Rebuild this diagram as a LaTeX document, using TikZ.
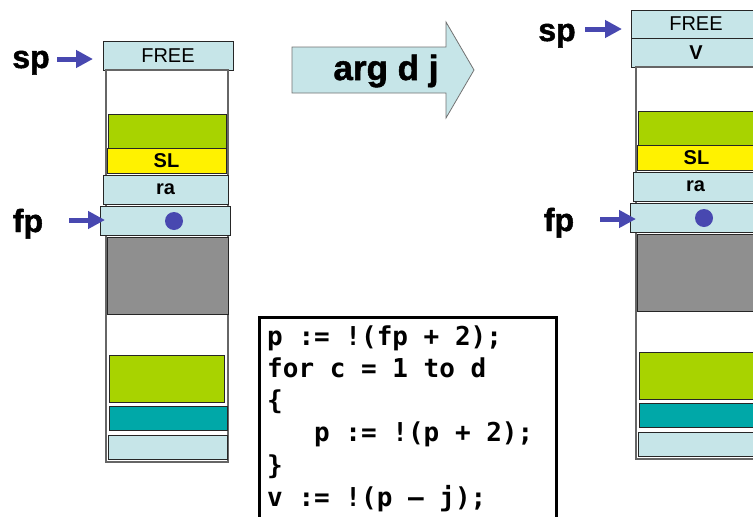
\documentclass[tikz,border=0pt]{standalone}
\usepackage{fontspec}
\setmainfont{Liberation Sans}
\newfontfamily\codefont{DejaVu Sans Mono}
\newfontfamily\heavyfont[FakeBold=1.5]{Liberation Sans Bold}
\usetikzlibrary{arrows.meta,calc}
\definecolor{cellblue}{RGB}{198,229,232}
\definecolor{cellgreen}{RGB}{168,211,0}
\definecolor{cellgray}{RGB}{143,143,143}
\definecolor{cellteal}{RGB}{0,168,168}
\definecolor{ptrblue}{RGB}{72,72,176}
\newcommand\drawstack[1]{%
  \node[column, minimum width=122, minimum height=392] (#1col) at (106,70) {};
  \node[cell, fill=cellgreen, minimum width=118, minimum height=34] (#1green) at (108,114) {};
  \node[cell, fill=yellow, minimum width=119, minimum height=25, font=\bfseries\fontsize{20}{20}\selectfont] (#1sl) at (107,148) {SL};
  \node[cell, fill=cellblue, minimum width=125, minimum height=29, font=\bfseries\fontsize{20}{20}\selectfont] (#1ra) at (103,175) {ra};
  \node[cell, fill=cellblue, minimum width=130, minimum height=29] (#1fp) at (100,206) {};
  \node[circle, fill=ptrblue, minimum size=18, inner sep=0] (#1dot) at (174,221) {};
  \node[cell, fill=cellgray, minimum width=121, minimum height=77] (#1gray) at (107,237) {};
  \node[cell, fill=cellgreen, minimum width=115, minimum height=47] (#1greentwo) at (109,355) {};
  \node[cell, fill=cellteal, minimum width=118, minimum height=24] (#1teal) at (109,406) {};
  \node[cell, fill=cellblue, minimum width=119, minimum height=24] (#1lblue) at (108,435) {};
}
\begin{document}
\begin{tikzpicture}[x=1pt,y=-1pt,
  cell/.style={draw=black!85, line width=1pt, inner sep=0, outer sep=0, anchor=north west, font=\fontsize{20}{20}\selectfont},
  column/.style={draw=black!60, line width=1.3pt, fill=white, inner sep=0, outer sep=0, anchor=north west},
  reg/.style={font=\heavyfont\fontsize{32}{32}\selectfont, inner sep=0, anchor=base},
  ptr/.style={draw=ptrblue, line width=5pt, -{Triangle[length=17pt,width=17pt]}},
  bigarrow/.style={fill=cellblue, draw=black!55, line width=0.8pt},
  codebox/.style={draw=black, line width=3pt, inner sep=0, anchor=north west},
  codeline/.style={inner sep=0, anchor=base west, font=\codefont\bfseries\fontsize{26}{26}\selectfont}]
\useasboundingbox (0,0) rectangle (753,517);
\clip (0,0) rectangle (753,517);
\fill[white] (0,0) rectangle (753,517);

% left stack
\node[cell, fill=cellblue, minimum width=130, minimum height=29] (Lfree) at (103,41) {FREE};
\drawstack{L}

% right stack
\begin{scope}[shift={(530,-3)}]
\node[cell, fill=cellblue, minimum width=130, minimum height=28] (Rfree) at (101,13) {FREE};
\node[cell, fill=cellblue, minimum width=130, minimum height=29, font=\bfseries\fontsize{20}{20}\selectfont] (Rv) at (101,41) {V};
\drawstack{R}
\end{scope}

% register labels and pointers
\node[reg] (Lsp) at (31,68) {sp};
\node[reg] (Lfplab) at (28,232) {fp};
\node[reg] (Rsp) at (557,41) {sp};
\node[reg] (Rfplab) at (559,231) {fp};

\coordinate (LspT) at (57,59);
\coordinate (LfpT) at (69,220);
\coordinate (RspT) at (585,29);
\coordinate (RfpT) at (600,219);
\draw[ptr, shorten >=10pt] (LspT) -- (LspT -| Lfree.west);
\draw[ptr, shorten >=-5pt] (LfpT) -- (LfpT -| Lfp.west);
\draw[ptr, shorten >=9pt] (RspT) -- (RspT -| Rfree.west);
\draw[ptr, shorten >=-6pt] (RfpT) -- (RfpT -| Rfp.west);

% big arrow
\path[bigarrow] (292,47) -- (446,47) -- (446,22) -- (474,70) -- (446,118) -- (446,93) -- (292,93) -- cycle;
\node[font=\heavyfont\fontsize{35}{35}\selectfont, inner sep=0, anchor=base] (argtext) at (386,80) {arg d j};

% code box
\node[codebox, minimum width=297, minimum height=240] (code) at (258,316) {};
\node[codeline] (c1) at (267,345) {p := !(fp + 2);};
\node[codeline] (c2) at (267,377.3) {for c = 1 to d};
\node[codeline] (c3) at (267,409.6) {\{};
\node[codeline] (c4) at (267,441.9) {\phantom{ppp}p := !(p + 2);};
\node[codeline] (c5) at (267,474.2) {\}};
\node[codeline] (c6) at (267,506.5) {v := !(p – j);};
\end{tikzpicture}
\end{document}
